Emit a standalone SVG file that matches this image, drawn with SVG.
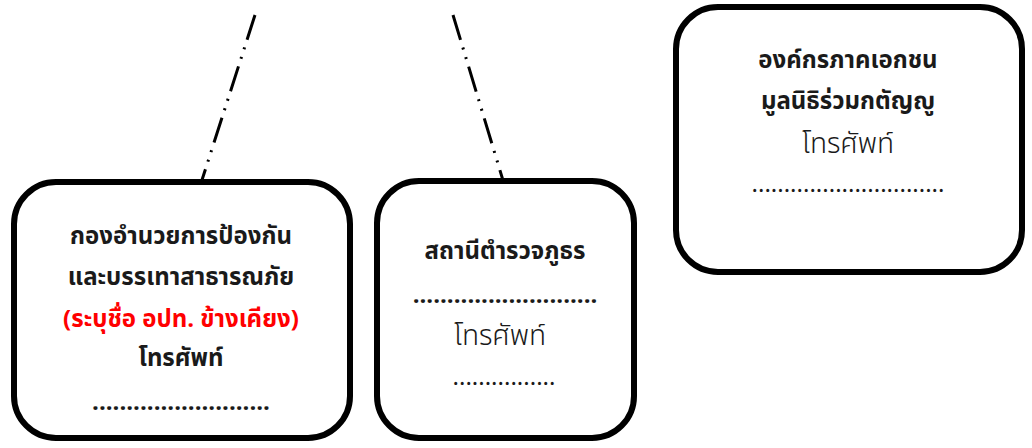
<svg xmlns="http://www.w3.org/2000/svg" width="1032" height="448" viewBox="0 0 1032 448">
<style>
.box{fill:#fff;stroke:#000;stroke-width:6}
.t{font-family:"Noto Sans Thai","Noto Sans","Liberation Sans",sans-serif;font-size:24px;text-anchor:middle;fill:#1a1a1a}
.b{font-weight:bold}
.r{font-size:28px;font-weight:300}
.red{fill:#ff0000}
.conn{stroke:#000;stroke-width:3;fill:none;stroke-dasharray:26 8 2 8 2 8}
</style>
<rect width="1032" height="448" fill="#fff"/>
<g id="connectors">
<line class="conn" x1="255" y1="15" x2="202" y2="180"/>
<line class="conn" x1="453" y1="15" x2="505" y2="187"/>
</g>
<g id="node1">
<rect class="box" x="14" y="182" width="336" height="256" rx="42"/>
<text class="t b" x="181" y="244">กองอำนวยการป้องกัน</text>
<text class="t b" x="181" y="285">และบรรเทาสาธารณภัย</text>
<text class="t b red" x="181" y="327">(ระบุชื่อ อปท. ข้างเคียง)</text>
<text class="t b" x="181" y="366">โทรศัพท์</text>
<text class="t b" x="181" y="410">..........................</text>
</g>
<g id="node2">
<rect class="box" x="377" y="181" width="257" height="257" rx="42"/>
<text class="t b" x="505" y="259">สถานีตำรวจภูธร</text>
<text class="t b" x="505" y="303">...........................</text>
<text class="t r" x="500" y="345">โทรศัพท์</text>
<text class="t" x="504" y="385">................</text>
</g>
<g id="node3">
<rect class="box" x="676" y="7" width="346" height="265" rx="42"/>
<text class="t b" x="848" y="68">องค์กรภาคเอกชน</text>
<text class="t b" x="848" y="109">มูลนิธิร่วมกตัญญู</text>
<text class="t r" x="848" y="153">โทรศัพท์</text>
<text class="t" x="848" y="192">..............................</text>
</g>
</svg>
